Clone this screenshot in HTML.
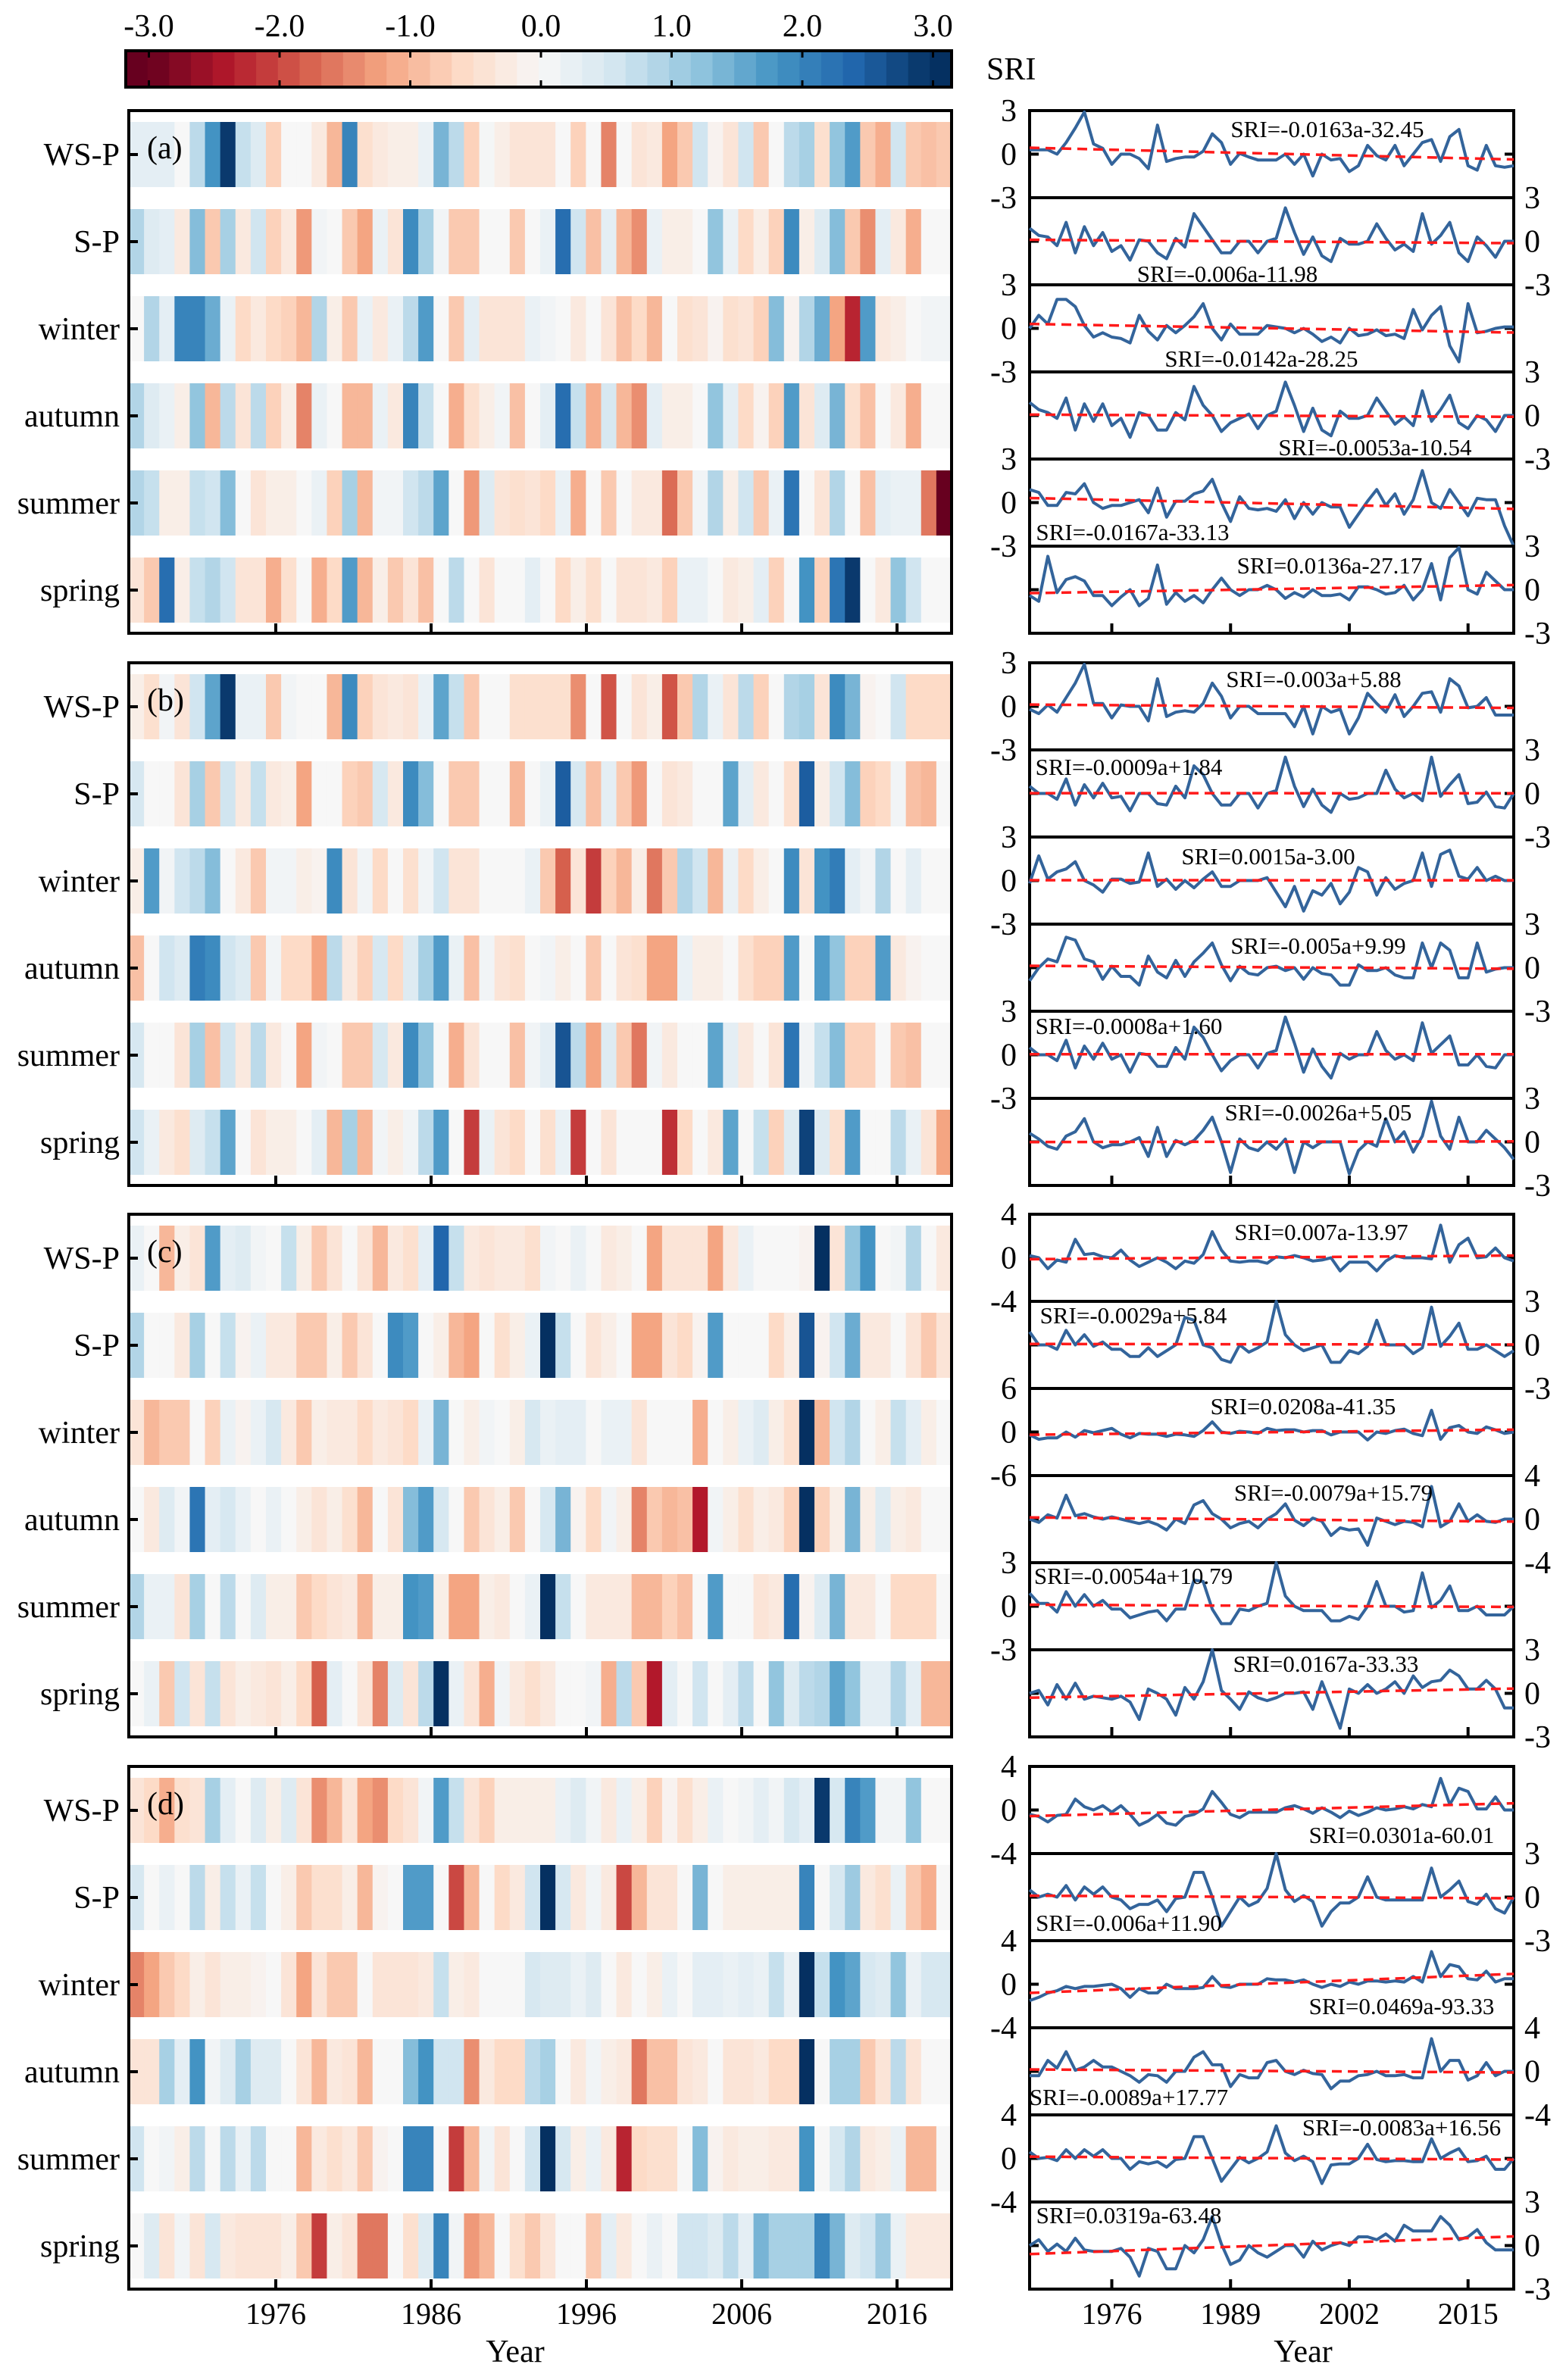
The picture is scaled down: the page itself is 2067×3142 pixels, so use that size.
<!DOCTYPE html>
<html><head><meta charset="utf-8"><style>
html,body{margin:0;padding:0;background:#fff;}
svg{display:block;}
text{font-family:"Liberation Serif",serif;fill:#000;}
</style></head><body>
<svg id="fig" width="2067" height="3142" viewBox="0 0 2067 3142" font-family="Liberation Serif, serif" xmlns="http://www.w3.org/2000/svg"></svg>
<script>
// ---- data ----
const rowLabels = ['WS-P','S-P','winter','autumn','summer','spring'];
const panelLetters = ['(a)','(b)','(c)','(d)'];
const colorbarTicks = [-3,-2,-1,0,1,2,3];
const heatYearTicks = [1976,1986,1996,2006,2016];
const lineYearTicks = [1976,1989,2002,2015];
const firstYear = 1967;

const a_wsp = [0.3,0.3,0.3,0,0.8,1.8,2.9,0.7,0.4,-0.7,0,0,-0.3,-1.0,2.0,-0.5,-0.3,-0.2,-0.2,0.2,1.4,0.8,-0.7,0.05,-0.2,-0.4,-0.4,-0.4,0,-0.7,0,-1.5,0,-0.4,-0.3,-1.2,-0.8,0.6,-0.1,-0.4,0.6,-0.8,0,0.8,1.0,-0.5,1.2,1.7,-0.8,-1.1,0.6,-0.8,-0.9,-0.8];
const a_sp = [0.9,0.4,0.3,-0.3,1.3,-0.8,1.0,-0.3,0.6,-0.7,-0.3,-1.3,0.1,0,-0.8,-1.2,0.2,-0.4,1.9,1.0,0.1,-0.8,-0.8,0,0,-0.8,0,0.2,2.3,0.6,-0.9,0.3,-1.0,-1.4,0.2,-0.2,-0.2,0,1.2,0.2,-0.6,-0.2,-0.7,1.9,-0.2,0.4,1.3,-0.8,-1.4,0.3,-0.3,-1.1,0,0];
const a_win = [0,0.9,0.3,2.0,2.0,1.5,0.2,-0.6,-0.3,-0.6,-0.7,-1.0,0.9,-0.2,-0.8,0.2,-0.3,0.2,0.8,1.7,0,-0.8,0.3,-0.4,-0.4,-0.4,0.2,0.1,0,-0.3,0,-0.4,-0.9,-0.6,-1.0,0,-0.5,-0.4,-0.1,-0.5,-0.4,-0.7,1.3,-0.1,0.9,1.5,-1.2,-2.3,1.7,-0.3,-0.2,0,0.1,0.1];
const a_aut = [0.9,0.4,0.2,-0.2,1.2,-1.0,0.8,-0.4,0.8,-0.7,-0.2,-1.5,0.2,0,-1.0,-1.0,0.2,-0.3,2.0,0.7,0,-1.1,-0.5,-0.2,0.1,-0.9,0,0.3,2.3,0.7,-1.1,0.5,-1.0,-1.4,0.3,-0.2,-0.2,0,1.2,0.3,-0.6,-0.1,-0.7,1.7,-0.4,0.4,1.4,-0.5,-0.9,0,-0.3,-1.1,0,0];
const a_sum = [0.9,0.7,-0.2,-0.2,0.7,0.6,1.3,0,-0.4,-0.2,-0.2,0,0.2,-0.7,1.0,-1.0,0.1,0.1,0.6,0.8,1.6,0,-1.3,0.4,-0.4,-0.5,-0.4,-0.6,0.2,-1.1,0,-0.8,0,-0.3,-0.3,-1.7,-0.8,0.1,0.9,-0.2,0.6,-0.8,0.2,2.2,0,-0.4,0.9,0,-0.9,0.3,0.2,0.2,-1.6,-3.0];
const a_spr = [-0.4,-0.8,2.3,-0.2,0.7,0.9,0.6,-0.4,-0.4,-1.1,-0.5,0,-1.1,-0.6,1.7,-1.0,-0.2,-0.8,-0.4,-0.9,0,0.8,0,-0.4,0,0,0.3,0,-0.6,-0.2,-0.5,0,-0.4,-0.4,-0.3,-0.7,0.2,0.2,0,-0.3,-0.2,0.3,-0.7,0,1.8,-0.7,2.2,2.9,0,-0.3,1.2,0.6,0,0];

const b_wsp = [-0.2,-0.5,0.1,-0.4,0.6,1.6,2.9,0.2,0.2,-0.8,0.1,0,0,-1.0,1.9,-0.7,-0.4,-0.3,-0.4,0.2,1.6,0.7,-0.8,0,0,-0.5,-0.5,-0.5,-0.5,-1.4,0,-1.9,0,-0.4,-0.2,-1.9,-0.8,0.9,0.2,-0.4,0.8,-0.7,0,0.9,1.0,-0.4,1.9,1.4,-0.1,0,0.6,-0.6,-0.6,-0.6];
const b_sp = [0.5,0,0,-0.4,1.0,-0.8,0.6,-0.3,0.7,-0.3,-0.2,-1.2,0,0,-0.7,-0.8,0.5,-0.3,1.9,1.3,0,-0.8,-0.8,0,0,-1.0,0,0.2,2.5,0.5,-0.9,0.3,-0.8,-1.3,0,-0.4,-0.3,0,0,1.6,0.3,-0.3,0,-0.5,2.5,-0.2,0.6,1.3,-0.7,-0.6,0.1,-0.9,-1.0,0];
const b_win = [-0.2,1.7,0.1,0.6,0.8,1.3,0,-0.3,-0.8,0.1,0.1,-0.2,-0.1,1.9,-0.4,0.1,-0.6,0,-0.5,0.1,0.6,-0.4,-0.4,0,0,0,0.2,-0.8,-1.8,-0.4,-2.1,-0.7,-1.0,-0.2,-1.6,-0.8,0.9,0.6,-1.0,0.2,-0.6,-0.2,0,1.9,-0.4,1.8,2.1,0.3,0.1,0.9,0,0.3,0,0];
const b_aut = [-0.9,0,0.6,0.4,2.1,1.9,0.6,0.4,-0.8,0.1,-0.6,-0.6,-1.2,0.8,-0.3,-0.7,0.5,-0.6,0.4,1.0,1.7,0.2,-0.9,0.1,-0.4,-0.5,0,0.1,-0.2,0,-0.8,0,-0.4,-0.5,-1.2,-1.2,0.2,-0.2,-0.2,0,-0.5,-0.7,-0.7,1.7,0,1.7,1.2,-0.7,-0.7,1.7,-0.3,-0.1,0,0];
const b_sum = [0.5,0,0,-0.4,1.0,-0.9,0.6,-0.3,0.8,-0.3,0,-1.2,0.1,0,-0.8,-0.8,0.5,-0.3,1.9,1.2,0,-1.1,-0.4,0,0,-0.9,0.1,0.3,2.6,0.8,-1.2,0.4,-0.8,-1.6,0.1,-0.3,0,0,1.6,0.3,-0.3,0,-0.4,2.2,0.1,0.7,1.3,-0.7,-0.7,0,-0.8,-0.9,0,0];
const b_spr = [0.6,0.2,-0.3,-0.5,0.4,0.7,1.6,0,-0.4,-0.2,-0.2,0,0.3,-1.0,1.0,-1.0,0.1,-0.2,0.1,0.8,1.7,0,-2.1,0.2,-0.4,-0.6,0,-0.5,0.2,-2.1,0,-0.4,0,0,0,-2.2,-0.6,0,-0.3,1.6,0,0.7,-0.7,0.4,2.8,0.4,-0.5,1.7,0,0,0.8,0.2,-0.4,-1.2];

const c_wsp = [0.2,0,-1.0,-0.2,-0.4,1.7,0.3,0.4,0.1,0,0.7,-0.2,-0.8,-0.4,0,-0.4,-1.0,-0.3,-0.5,0.3,2.4,0.7,-0.3,-0.4,-0.3,-0.3,-0.5,0.1,0,0.2,0,-0.3,-0.2,0,-1.2,-0.4,-0.4,-0.4,-1.2,-0.3,0.2,0,0,0,-0.1,3.0,-0.4,1.2,1.8,0,0.1,0.9,0,-0.3];
const c_sp = [0.9,0,0,-0.3,1.0,0,0.7,-0.1,0.2,-0.3,-0.3,-0.8,-0.8,-0.2,-0.8,-0.4,0,1.9,1.7,0,-0.2,-1.0,-1.2,0,-0.5,-0.2,0.2,3.0,0.7,0,-0.4,-0.2,0,-1.2,-1.2,-0.4,-0.6,-0.1,1.7,0,0,0,-0.6,-0.2,2.6,-0.1,0.6,1.5,-0.3,-0.3,0,-0.4,-0.8,-0.4];
const c_win = [-0.4,-1.0,-0.8,-0.8,0,-0.7,0.2,-0.1,0.2,0.5,-0.3,-0.8,-0.2,-0.3,-0.3,-0.6,-0.3,-0.4,-0.6,0.2,1.4,0,-0.2,0.1,0,-0.2,0.5,0.2,0.3,0.3,0,0.2,0.2,-0.4,0,0,0,-1.1,0,-0.2,0.2,0.4,-0.2,-0.5,3.0,-1.0,0.6,0.9,0,-0.2,0.7,0.3,-0.2,0];
const c_aut = [0,-0.3,0.4,0.1,2.2,0.3,0.5,0.2,0,0.2,0,-0.2,-0.4,-0.2,-0.5,-1.0,0,-0.4,1.3,1.7,0.5,0,-0.8,-0.4,-0.2,-0.8,0,0.5,1.4,-0.1,-0.6,0.1,-0.2,-1.5,-0.8,-1.0,-0.9,-2.4,0.1,-0.2,-0.5,-0.2,-0.3,-0.7,3.0,-0.7,-0.2,1.4,-0.2,0.4,-0.2,-0.3,0,0];
const c_sum = [0.9,0.2,0.2,-0.4,1.0,0,0.8,0,0.4,-0.2,-0.2,-0.8,-0.6,-0.4,-0.3,-1.0,-0.2,-0.2,1.8,1.7,-0.2,-1.2,-1.2,-0.2,-0.3,0,0.2,3.0,0.7,0,-0.3,-0.3,-0.3,-1.0,-1.0,-0.7,-0.9,0,1.7,0,0,-0.4,-0.3,2.3,-0.1,0.4,1.4,-0.3,-0.3,0,-0.6,-0.6,-0.6,0];
const c_spr = [0,0.2,-0.8,0.6,-0.4,0.7,-0.4,-0.2,-0.3,-0.4,-0.2,-0.6,-1.8,0.3,0,-0.4,-1.5,0.4,-0.4,0.8,3.0,0.2,-0.4,-1.1,0.1,-0.3,-0.5,-0.3,0,0,0.1,-1.1,0.8,-0.8,-2.4,0.3,0,0.6,0,0.3,0.8,0,1.2,0.4,0.8,0.9,1.6,1.2,0.3,0.3,0.9,0.3,-1.0,-1.0];

const d_wsp = [-0.4,-0.6,-1.1,-0.5,-0.4,1.0,0.3,0,0.4,-0.2,0.4,-0.4,-1.4,-1.0,-0.4,-1.2,-1.4,-0.6,-0.4,0.1,1.7,0.7,-0.4,-0.7,-0.2,-0.2,-0.2,-0.2,0.2,0.4,0.1,-0.3,0.2,-0.2,-0.7,-0.1,-0.5,-0.2,0.2,0,0.1,0.3,0.1,0.5,0.3,2.9,0.5,2.0,1.7,0.1,0.1,1.2,0,0];
const d_sp = [0.5,0,0.2,0,0.8,-0.2,0.7,0.2,0.7,0,-0.2,-0.8,-0.5,-0.5,-0.2,-1.0,-0.1,0,1.7,1.7,0,-2.0,-1.0,0,-0.6,-0.3,0.6,3.0,0.5,-0.3,0.1,-0.3,-2.0,-1.0,-0.4,-0.4,0,1.4,0,-0.2,-0.2,-0.2,-0.2,-0.2,2.0,0,0.5,1.1,-0.3,-0.5,0.2,-0.8,-1.1,0];
const d_win = [-1.5,-1.2,-0.8,-0.6,-0.2,-0.4,-0.2,-0.2,-0.1,0,-0.4,-1.2,-0.4,-0.8,-0.8,0,-0.4,-0.4,-0.4,-0.3,0.7,-0.2,-0.3,0,0,0,0.5,0.4,0.4,0.2,0.4,0,-0.3,0,-0.2,0.2,0,0.3,0.3,0.2,0.3,0.2,0.7,0.2,3.0,0.7,1.8,1.6,0.5,0.4,1.2,0.2,0.5,0.5];
const d_aut = [-0.4,-0.4,1.0,0.3,1.8,0.1,0.4,1.0,0.4,0.4,0,-0.4,-1.0,-0.3,-0.4,-1.0,0,0,1.3,1.8,0.6,0.6,-1.4,-0.3,-0.6,-0.6,0.8,1.0,0,-0.3,0.1,-0.2,-0.3,-1.6,-0.9,-0.9,-0.4,-0.3,0,-0.4,-0.4,-0.3,-0.6,-0.6,3.0,0,1.0,1.0,-0.8,-0.4,0.8,-0.4,0,0];
const d_sum = [0.6,0,0.1,-0.2,0.8,0,0.8,0.2,0.8,0,0,-1.0,-0.3,-0.5,-0.3,-0.8,-0.1,0,2.0,2.0,0,-2.1,-1.0,0.1,-0.4,0,0.6,3.0,0.5,-0.2,0.2,-0.3,-2.3,-0.6,-0.5,-0.5,0,1.3,-0.1,-0.3,-0.2,-0.2,-0.3,-0.3,1.8,0,0.5,0.9,-0.3,-0.2,0.2,-1.0,-1.0,0];
const d_spr = [0,0.4,-0.4,0.1,-0.4,0.5,-0.3,-0.4,-0.4,-0.4,-0.2,-0.8,-2.1,-0.2,-0.4,-1.6,-1.6,0,-0.5,0.4,2.0,0.1,-1.3,-1.0,0,-0.5,-0.8,-0.4,0,0,-0.8,0.3,-0.3,0,0.2,0,0.6,0.6,0.4,0.8,0.3,1.4,1.0,1.0,1.0,2.0,1.4,0.4,0.6,1.1,0.2,-0.3,-0.3,-0.3];

const panelData = [
  [a_wsp,a_sp,a_win,a_aut,a_sum,a_spr],
  [b_wsp,b_sp,b_win,b_aut,b_sum,b_spr],
  [c_wsp,c_sp,c_win,c_aut,c_sum,c_spr],
  [d_wsp,d_sp,d_win,d_aut,d_sum,d_spr]
];
const yRanges = [
  [3,3,3,3,3,3],
  [3,3,3,3,3,3],
  [4,3,6,4,3,3],
  [4,3,4,4,4,3]
];
const equations = [
  ['SRI=-0.0163a-32.45','SRI=-0.006a-11.98','SRI=-0.0142a-28.25','SRI=-0.0053a-10.54','SRI=-0.0167a-33.13','SRI=0.0136a-27.17'],
  ['SRI=-0.003a+5.88','SRI=-0.0009a+1.84','SRI=0.0015a-3.00','SRI=-0.005a+9.99','SRI=-0.0008a+1.60','SRI=-0.0026a+5.05'],
  ['SRI=0.007a-13.97','SRI=-0.0029a+5.84','SRI=0.0208a-41.35','SRI=-0.0079a+15.79','SRI=-0.0054a+10.79','SRI=0.0167a-33.33'],
  ['SRI=0.0301a-60.01','SRI=-0.006a+11.90','SRI=0.0469a-93.33','SRI=-0.0089a+17.77','SRI=-0.0083a+16.56','SRI=0.0319a-63.48']
];
// layout (pixel positions, not data)
const eqPos = [
  [[1752,170],[1620,361],[1665,473],[1815,590],[1495,702],[1755,746]],
  [[1734,896],[1490,1012],[1674,1130],[1740,1248],[1490,1354],[1740,1468]],
  [[1744,1626],[1496,1736],[1720,1856],[1760,1970],[1496,2080],[1750,2196]],
  [[1850,2422],[1490,2538],[1850,2648],[1490,2768],[1850,2808],[1490,2924]]
];

// ---- helpers ----
const NS='http://www.w3.org/2000/svg';
const svg=document.getElementById('fig');
function mk(tag, attrs, parent){
  const e=document.createElementNS(NS,tag);
  for(const k in attrs) e.setAttribute(k,attrs[k]);
  (parent||svg).appendChild(e);
  return e;
}
const stops=['#67001f','#b2182b','#d6604d','#f4a582','#fddbc7','#f7f7f7','#d1e5f0','#92c5de','#4393c3','#2166ac','#053061'];
function hex(h){return [parseInt(h.substr(1,2),16),parseInt(h.substr(3,2),16),parseInt(h.substr(5,2),16)];}
function cmap(v){
  let t=(v+3)/6; t=Math.max(0,Math.min(1,t));
  const p=t*10, i=Math.min(9,Math.floor(p)), f=p-i;
  const a=hex(stops[i]), b=hex(stops[i+1]);
  return 'rgb('+a.map((c,k)=>Math.round(c+(b[k]-c)*f)).join(',')+')';
}

const panelTops=[146,875,1603,2332];
const PH=690, HL=170, HR=1256, ROW0=15, ROWH=86, PITCH=115;
const LL=1359, LR=1998;
const nCells=54;
const cw=(HR-HL)/nCells;
const heatYearX = y => 364 + (y-1976)*20.5;
const lineX = (i) => LL + i*(LR-LL)/(nCells-1);
const lineYearX = y => lineX(y-firstYear);

// ---- colorbar ----
const cbL=166, cbR=1256, cbT=67, cbB=115;
const cbX = v => 714 + v*172.5;
const cbG=mk('g',{});


const nSeg=38;
for(let s=0;s<nSeg;s++){
  const x0=cbL+s*(cbR-cbL)/nSeg, x1=cbL+(s+1)*(cbR-cbL)/nSeg;
  const vm=((x0+x1)/2-714)/172.5;
  const r=mk('rect',{x:x0,y:cbT,width:x1-x0+0.6,height:cbB-cbT,fill:cmap(vm)},cbG);
  
  
}
mk('rect',{x:cbL,y:cbT,width:cbR-cbL,height:cbB-cbT,fill:'none',stroke:'#000','stroke-width':4},cbG);
colorbarTicks.forEach(v=>{
  const x=cbX(v);
  mk('line',{x1:x,x2:x,y1:cbT,y2:cbT+9,stroke:'#000','stroke-width':3},cbG);
  mk('line',{x1:x,x2:x,y1:cbB-9,y2:cbB,stroke:'#000','stroke-width':3},cbG);
  const t=mk('text',{x:x,y:48,'font-size':42,'text-anchor':'middle'},cbG);
  t.textContent=v.toFixed(1);
  
  
});
const sriT=mk('text',{x:1302,y:105,'font-size':42});
sriT.textContent='SRI';



// ---- panels ----
panelData.forEach((rows,p)=>{
  const top=panelTops[p];
  const hg=mk('g',{});
  
  
  rows.forEach((vals,r)=>{
    const ry=top+ROW0+r*PITCH;
    vals.slice(0,nCells).forEach((v,i)=>{
      const c=mk('rect',{x:HL+i*cw,y:ry,width:cw+0.5,height:ROWH,fill:cmap(v)},hg);
      
      
    });
    const cy=ry+ROWH/2;
    mk('line',{x1:HL,x2:HL+12,y1:cy,y2:cy,stroke:'#000','stroke-width':4},hg);
    const lab=mk('text',{x:158,y:cy+14,'font-size':42,'text-anchor':'end'},hg);
    lab.textContent=rowLabels[r];
    
    
  });
  mk('rect',{x:HL,y:top,width:HR-HL,height:PH,fill:'none',stroke:'#000','stroke-width':4},hg);
  heatYearTicks.forEach(y=>{
    const x=heatYearX(y);
    mk('line',{x1:x,x2:x,y1:top+PH-13,y2:top+PH,stroke:'#000','stroke-width':4},hg);
  });
  const pl=mk('text',{x:194,y:top+63,'font-size':42},hg);
  pl.textContent=panelLetters[p];
  
  

  const lg=mk('g',{});
  
  
  rows.forEach((vals,r)=>{
    const st=top+r*PITCH, R=yRanges[p][r];
    const yS = v => st+PITCH/2 - v*(PITCH/2)/R;
    mk('rect',{x:LL,y:st,width:LR-LL,height:PITCH,fill:'none',stroke:'#000','stroke-width':4},lg);
    mk('line',{x1:LL,x2:LL+12,y1:yS(0),y2:yS(0),stroke:'#000','stroke-width':4},lg);
    mk('line',{x1:LR-12,x2:LR,y1:yS(0),y2:yS(0),stroke:'#000','stroke-width':4},lg);
    const left=(r%2===0);
    [R,0,-R].forEach(v=>{
      const t=mk('text',{x:left?1342:2012,y:yS(v)+14,'font-size':42,'text-anchor':left?'end':'start'},lg);
      t.textContent=String(v);
      
      
    });
    const n=Math.min(vals.length,nCells);
    let d='';
    for(let i=0;i<n;i++) d+=(i?'L':'M')+lineX(i).toFixed(1)+','+yS(vals[i]).toFixed(1);
    const path=mk('path',{d:d,fill:'none',stroke:'#33649b','stroke-width':4,'stroke-linejoin':'round'},lg);
    
    
    let sx=0,sy=0,sxx=0,sxy=0;
    for(let i=0;i<n;i++){sx+=i;sy+=vals[i];sxx+=i*i;sxy+=i*vals[i];}
    const b=(n*sxy-sx*sy)/(n*sxx-sx*sx), a=(sy-b*sx)/n;
    const tr=mk('line',{x1:LL,y1:yS(a),x2:LR,y2:yS(a+b*(nCells-1)),stroke:'#ff1a1a','stroke-width':3.5,'stroke-dasharray':'13,8'},lg);
    
    
    const e=mk('text',{x:eqPos[p][r][0],y:eqPos[p][r][1]+11,'font-size':31,'text-anchor':'middle'},lg);
    e.textContent=equations[p][r];
    
    
  });
  lineYearTicks.forEach(y=>{
    const x=lineYearX(y);
    mk('line',{x1:x,x2:x,y1:top+PH-13,y2:top+PH,stroke:'#000','stroke-width':4},lg);
  });
});

heatYearTicks.forEach(y=>{
  const t=mk('text',{x:heatYearX(y),y:3068,'font-size':40,'text-anchor':'middle'});
  t.textContent=String(y);
  
  
});
lineYearTicks.forEach(y=>{
  const t=mk('text',{x:lineYearX(y),y:3068,'font-size':40,'text-anchor':'middle'});
  t.textContent=String(y);
  
  
});
const x1t=mk('text',{x:680,y:3118,'font-size':42,'text-anchor':'middle'});
x1t.textContent='Year';


const x2t=mk('text',{x:1720,y:3118,'font-size':42,'text-anchor':'middle'});
x2t.textContent='Year';


</script>
</body></html>
